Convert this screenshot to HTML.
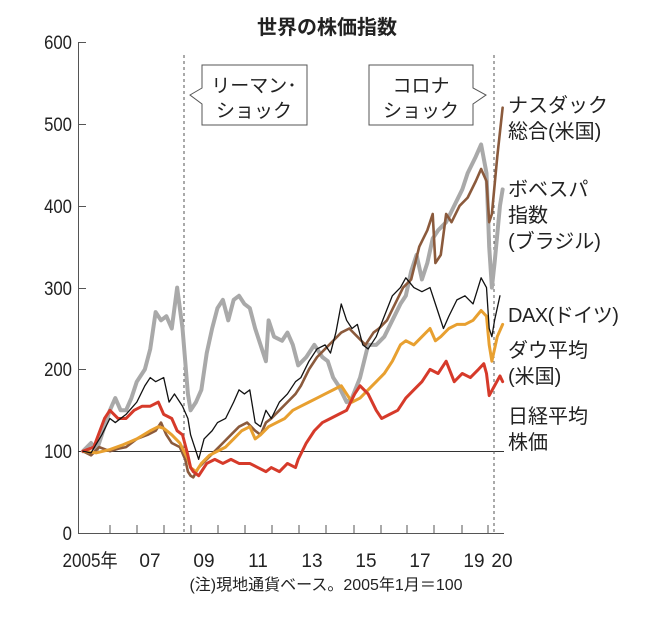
<!DOCTYPE html>
<html><head><meta charset="utf-8"><style>
body{margin:0;background:#fff;}
svg text{font-family:"Liberation Sans","Noto Sans CJK JP",sans-serif;fill:#222;}
</style></head><body>
<svg width="656" height="612" viewBox="0 0 656 612" xmlns="http://www.w3.org/2000/svg">
<rect width="656" height="612" fill="#fff"/>
<text x="327" y="34" font-size="20" font-weight="bold" text-anchor="middle">世界の株価指数</text>
<line x1="78.5" y1="42" x2="78.5" y2="533" stroke="#555" stroke-width="1"/>
<line x1="78" y1="533.5" x2="504" y2="533.5" stroke="#555" stroke-width="1"/>
<g stroke="#555" stroke-width="1">
<line x1="78" y1="42.5" x2="86" y2="42.5"/>
<line x1="78" y1="124.5" x2="86" y2="124.5"/>
<line x1="78" y1="206.5" x2="86" y2="206.5"/>
<line x1="78" y1="288.5" x2="86" y2="288.5"/>
<line x1="78" y1="369.5" x2="86" y2="369.5"/>
</g>
<line x1="78" y1="451.5" x2="504" y2="451.5" stroke="#333" stroke-width="1"/>
<g stroke="#555" stroke-width="1">
<line x1="110" y1="533" x2="110" y2="525"/><line x1="137" y1="533" x2="137" y2="525"/>
<line x1="164" y1="533" x2="164" y2="525"/><line x1="191" y1="533" x2="191" y2="525"/>
<line x1="218" y1="533" x2="218" y2="525"/><line x1="245" y1="533" x2="245" y2="525"/>
<line x1="272" y1="533" x2="272" y2="525"/><line x1="299" y1="533" x2="299" y2="525"/>
<line x1="326" y1="533" x2="326" y2="525"/><line x1="354" y1="533" x2="354" y2="525"/>
<line x1="381" y1="533" x2="381" y2="525"/><line x1="407" y1="533" x2="407" y2="525"/>
<line x1="434" y1="533" x2="434" y2="525"/><line x1="462" y1="533" x2="462" y2="525"/>
<line x1="488" y1="533" x2="488" y2="525"/>
</g>
<g font-size="19" text-anchor="end" transform="matrix(0.88 0 0 1 8.6 0)">
<text x="72" y="49">600</text><text x="72" y="131">500</text><text x="72" y="213">400</text>
<text x="72" y="295">300</text><text x="72" y="376">200</text><text x="72" y="458">100</text>
<text x="72" y="540">0</text>
</g>
<g font-size="19" text-anchor="middle">
<text x="90" y="567" transform="matrix(0.9 0 0 1 9 0)">2005年</text>
<text x="150" y="567">07</text><text x="204" y="567">09</text><text x="258" y="567">11</text>
<text x="312" y="567">13</text><text x="366" y="567">15</text><text x="420" y="567">17</text>
<text x="474" y="567">19</text><text x="502" y="567">20</text>
</g>
<text x="326" y="590" font-size="16" text-anchor="middle">(注)現地通貨ベース。2005年1月＝100</text>
<line x1="184" y1="55" x2="184" y2="533" stroke="#555" stroke-dasharray="3,3"/>
<line x1="494" y1="55" x2="494" y2="533" stroke="#555" stroke-dasharray="3,3"/>
<path d="M202,65 H307 V125 H202 V104 L190,95 L202,88 Z" fill="#fff" stroke="#555"/>
<text x="254" y="92" font-size="19" text-anchor="middle">リーマン･</text>
<text x="254" y="117" font-size="19" text-anchor="middle">ショック</text>
<path d="M369,65 H473 V88 L486,95 L473,104 V125 H369 Z" fill="#fff" stroke="#555"/>
<text x="421" y="92" font-size="19" text-anchor="middle">コロナ</text>
<text x="421" y="117" font-size="19" text-anchor="middle">ショック</text>
<g transform="matrix(26.9 0 0 -0.818 83 533)" fill="none" stroke-linejoin="round" stroke-linecap="round">
<polyline vector-effect="non-scaling-stroke" stroke="#a9a9a9" stroke-width="4" points="0,100 0.3,110 0.5,100 0.8,130 1.0,150 1.2,165 1.4,150 1.6,150 1.8,165 2.0,185 2.3,200 2.5,225 2.7,270 2.9,260 3.1,265 3.3,250 3.5,300 3.7,250 3.9,170 4.0,150 4.2,160 4.4,175 4.6,220 4.8,250 5.0,275 5.2,285 5.4,260 5.6,285 5.8,290 6.0,280 6.2,275 6.4,250 6.6,230 6.8,210 6.9,260 7.1,240 7.4,235 7.6,245 7.8,230 8.0,205 8.3,215 8.6,230 8.9,215 9.1,210 9.3,190 9.5,180 9.8,160 10.0,165 10.3,190 10.6,230 10.9,230 11.2,240 11.5,260 11.8,280 12.0,290 12.2,320 12.4,340 12.6,310 12.8,330 13.0,360 13.2,370 13.5,380 13.8,400 14.1,420 14.3,440 14.6,460 14.8,475 15.0,440 15.1,350 15.2,300 15.3,330 15.5,400 15.6,420"/>
<polyline vector-effect="non-scaling-stroke" stroke="#8b5a3c" stroke-width="2.6" points="0,100 0.3,95 0.6,105 1.0,100 1.3,103 1.6,105 2.0,115 2.4,120 2.7,125 2.9,135 3.1,120 3.3,110 3.6,105 3.8,90 3.9,75 4.0,70 4.1,68 4.3,80 4.6,90 4.9,100 5.2,110 5.5,120 5.8,130 6.1,135 6.4,125 6.6,120 6.8,135 7.0,140 7.3,150 7.6,160 7.9,170 8.1,180 8.4,200 8.7,215 9.0,225 9.3,235 9.6,245 9.9,250 10.2,240 10.5,230 10.8,245 11.0,250 11.3,260 11.6,280 11.9,300 12.2,310 12.5,350 12.8,370 13.0,390 13.1,330 13.3,340 13.5,390 13.7,380 14.0,400 14.3,410 14.6,430 14.8,445 15.0,430 15.1,380 15.2,390 15.4,460 15.6,520"/>
<polyline vector-effect="non-scaling-stroke" stroke="#e8a030" stroke-width="3" points="0,100 0.5,98 1.0,102 1.5,108 2.0,115 2.5,125 2.8,130 3.0,128 3.3,120 3.6,110 3.9,90 4.0,80 4.2,75 4.4,85 4.7,95 5.0,100 5.3,105 5.6,115 5.9,125 6.2,130 6.4,115 6.6,120 6.9,130 7.2,135 7.5,140 7.8,150 8.1,155 8.4,160 8.7,165 9.0,170 9.3,175 9.6,180 9.8,170 10.0,160 10.3,165 10.6,175 10.9,185 11.2,195 11.5,210 11.8,230 12.0,235 12.3,230 12.6,240 12.9,250 13.1,235 13.3,240 13.6,250 13.9,255 14.2,255 14.5,260 14.8,272 15.0,265 15.1,230 15.2,210 15.4,240 15.6,255"/>
<polyline vector-effect="non-scaling-stroke" stroke="#d63a2a" stroke-width="3" points="0,100 0.4,105 0.8,140 1.0,150 1.3,140 1.6,140 1.9,150 2.2,155 2.5,155 2.8,160 3.0,145 3.3,140 3.5,125 3.7,120 3.9,95 4.0,80 4.1,75 4.3,70 4.6,85 4.9,90 5.2,85 5.5,90 5.8,85 6.2,85 6.5,80 6.8,75 7.0,80 7.3,75 7.6,85 7.9,80 8.0,90 8.3,110 8.6,125 8.9,135 9.2,140 9.5,145 9.8,150 10.1,170 10.3,180 10.6,170 10.9,150 11.1,140 11.4,145 11.7,150 12.0,165 12.3,175 12.6,185 12.9,200 13.2,195 13.5,210 13.8,185 14.1,195 14.4,190 14.7,200 14.9,207 15.0,195 15.1,168 15.3,180 15.5,192 15.6,185"/>
<polyline vector-effect="non-scaling-stroke" stroke="#111" stroke-width="1.3" points="0,100 0.3,98 0.7,120 1.0,140 1.2,135 1.6,145 2.0,160 2.3,180 2.5,190 2.7,185 3.0,190 3.2,160 3.4,170 3.7,155 3.9,140 4.0,120 4.1,110 4.2,100 4.3,90 4.5,115 4.8,125 5.0,135 5.3,140 5.6,160 5.8,175 6.0,170 6.2,175 6.4,135 6.6,130 6.8,150 7.0,140 7.3,160 7.6,170 7.9,185 8.1,190 8.4,210 8.7,225 9.0,230 9.2,220 9.4,245 9.6,280 9.8,260 10.0,250 10.2,255 10.4,230 10.6,225 10.9,240 11.2,265 11.5,290 11.8,300 12.0,312 12.3,300 12.6,295 12.9,300 13.2,270 13.4,250 13.6,265 13.9,285 14.2,290 14.5,280 14.8,312 15.0,300 15.1,250 15.2,240 15.3,260 15.5,290"/>
</g>
<g font-size="20">
<text x="508" y="112">ナスダック</text><text x="508" y="138">総合(米国)</text>
<text x="508" y="196">ボベスパ</text><text x="508" y="222">指数</text><text x="508" y="248">(ブラジル)</text>
<text x="508" y="322" letter-spacing="-0.5">DAX(ドイツ)</text>
<text x="508" y="357">ダウ平均</text><text x="508" y="383">(米国)</text>
<text x="508" y="423">日経平均</text><text x="508" y="449">株価</text>
</g>
</svg>
</body></html>
